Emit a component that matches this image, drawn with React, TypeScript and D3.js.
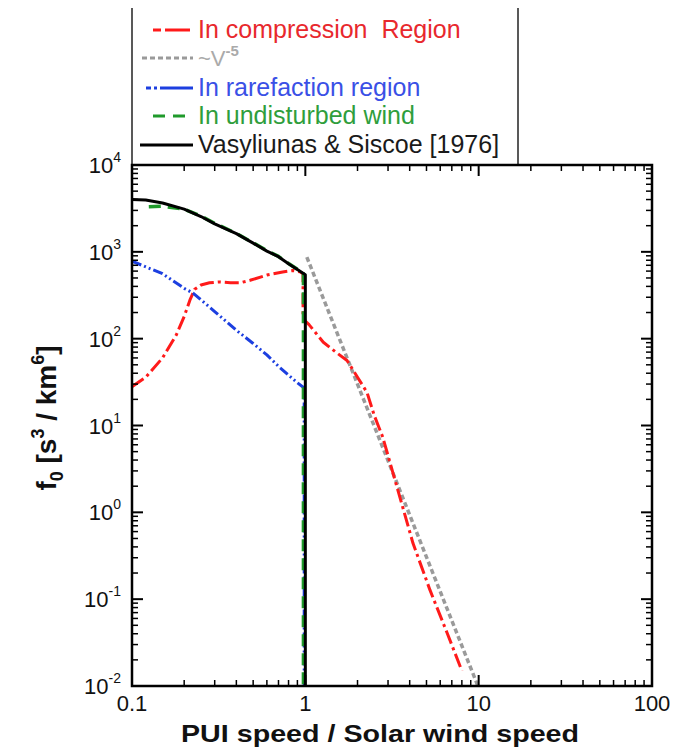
import React from "react";
import * as d3 from "d3";

// ---- data ----
const vsSpeed = [0.1, 0.12, 0.15, 0.2, 0.25, 0.3, 0.4, 0.5, 0.6, 0.7, 0.8, 0.9, 1.0, 1.0];
const vsF = [4000, 3950, 3650, 3100, 2550, 2100, 1620, 1260, 1020, 880, 730, 625, 545, 0.01];

const undSpeed = [0.125, 0.15, 0.2, 0.25, 0.3, 0.4, 0.5, 0.6, 0.7, 0.8, 0.9, 0.975, 0.975];
const undF = [3300, 3350, 3100, 2580, 2130, 1630, 1270, 1030, 885, 735, 630, 560, 0.01];

const rarSpeed = [0.1, 0.15, 0.2, 0.225, 0.3, 0.4, 0.5, 0.6, 0.7, 0.8, 0.9, 0.985, 0.985];
const rarF = [780, 560, 380, 335, 205, 125, 88, 65, 48, 38, 31, 27, 0.01];

const compSpeed = [0.1, 0.12, 0.15, 0.18, 0.2, 0.216, 0.23, 0.25, 0.28, 0.32, 0.37, 0.42, 0.48, 0.6, 0.74, 0.85, 0.93, 0.97, 0.97, 1.0, 1.05, 1.27, 1.5, 1.74, 2.0, 2.27, 2.5, 2.8, 3.38, 4.18, 5.24, 6.57, 8.0];
const compF = [28, 36, 60, 110, 180, 279, 370, 415, 440, 450, 440, 440, 470, 540, 586, 610, 590, 560, 180, 160, 145, 91, 70, 56, 36, 24, 13, 7.3, 1.95, 0.44, 0.127, 0.041, 0.015];

const powSpeed = [1.02, 9.9];
const powF = [870, 0.01];

const xTickValues = [0.1, 1, 10, 100];
const xTickLabels = ["0.1", "1", "10", "100"];
const yExponents = [-2, -1, 0, 1, 2, 3, 4];

const legendLabels = ["In compression\u00a0\u00a0Region", "~V", "In rarefaction region", "In undisturbed wind", "Vasyliunas & Siscoe [1976]"];
const xTitle = "PUI speed / Solar wind speed";

const FONT = "Liberation Sans, Arial, Helvetica, sans-serif";

export default function App() {
  const W = 688, H = 750;
  const L = 132, R = 652, T = 165, B = 686;
  const x = d3.scaleLog().domain([0.1, 100]).range([L, R]);
  const y = d3.scaleLog().domain([0.01, 1e4]).range([B, T]);
  const line = d3.line<[number, number]>().x((d) => x(d[0])).y((d) => y(d[1]));
  const path = (xs: number[], ys: number[]) => line(xs.map((v, i) => [v, ys[i]]) as [number, number][]) || "";

  const series = [
    { xs: powSpeed, ys: powF, color: "#9a9a9a", dash: "5,3", w: 3.5 },
    { xs: compSpeed, ys: compF, color: "#ff1a1a", dash: "14,4,3,4", w: 3 },
    { xs: rarSpeed, ys: rarF, color: "#1c3fe0", dash: "10,3,2,3,2,3", w: 3 },
    { xs: undSpeed, ys: undF, color: "#1f9a2b", dash: "12,7", w: 3.5 },
    { xs: vsSpeed, ys: vsF, color: "#000000", dash: "", w: 3 },
  ];

  // minor ticks
  const xMinor: number[] = [];
  for (let e = -1; e < 2; e++) for (let k = 2; k <= 9; k++) xMinor.push(k * Math.pow(10, e));
  const yMinor: number[] = [];
  for (let e = -2; e < 4; e++) for (let k = 2; k <= 9; k++) yMinor.push(k * Math.pow(10, e));

  const legendRows = [
    { base: 38, color: "#ff1a1a", text: "#e8282d", dash: "8,4,30,0", x1: 153, x2: 190 },
    { base: 66, color: "#9a9a9a", text: "#aaaaaa", dash: "5,3", x1: 142, x2: 193 },
    { base: 96, color: "#1c3fe0", text: "#3a50e6", dash: "5,3,3,3,40,0", x1: 146, x2: 193 },
    { base: 124, color: "#1f9a2b", text: "#2f9e3c", dash: "12,8", x1: 153, x2: 193 },
    { base: 153, color: "#000000", text: "#1a1a1a", dash: "", x1: 140, x2: 193 },
  ];

  return (
    <svg width={W} height={H} style={{ position: "absolute", left: 0, top: 0, background: "#fff" }} fontFamily={FONT}>
      <defs>
        <clipPath id="plotclip">
          <rect x={L} y={T} width={R - L} height={B - T} />
        </clipPath>
      </defs>
      <rect x={0} y={0} width={W} height={H} fill="#fff" />

      {/* legend box */}
      <line x1={L} x2={L} y1={8} y2={T} stroke="#222" strokeWidth={1.5} />
      <line x1={518} x2={518} y1={8} y2={T} stroke="#222" strokeWidth={1.5} />
      {legendRows.map((r, i) => (
        <g key={i}>
          <line x1={r.x1} x2={r.x2} y1={r.base - 8} y2={r.base - 8} stroke={r.color} strokeWidth={3} strokeDasharray={r.dash || undefined} />
          {i === 1 ? (
            <text x={198} y={r.base} fontSize={22} fill={r.text}>
              {legendLabels[i]}
              <tspan dy={-10} fontSize={15} fontWeight="bold">-5</tspan>
            </text>
          ) : (
            <text x={198} y={r.base} fontSize={25} fill={r.text}>{legendLabels[i]}</text>
          )}
        </g>
      ))}

      {/* curves */}
      <g clipPath="url(#plotclip)">
        {series.map((s, i) => (
          <path key={i} d={path(s.xs, s.ys)} fill="none" stroke={s.color} strokeWidth={s.w} strokeDasharray={s.dash || undefined} strokeLinejoin="round" />
        ))}
      </g>

      {/* ticks */}
      <g stroke="#000" strokeWidth={1.5}>
        {xMinor.map((v, i) => (
          <g key={"xm" + i}>
            <line x1={x(v)} x2={x(v)} y1={B} y2={B - 6} />
            <line x1={x(v)} x2={x(v)} y1={T} y2={T + 6} />
          </g>
        ))}
        {xTickValues.map((v, i) => (
          <g key={"xM" + i}>
            <line x1={x(v)} x2={x(v)} y1={B} y2={B - 11} strokeWidth={2} />
            <line x1={x(v)} x2={x(v)} y1={T} y2={T + 11} strokeWidth={2} />
          </g>
        ))}
        {yMinor.map((v, i) => (
          <g key={"ym" + i}>
            <line x1={L} x2={L + 6} y1={y(v)} y2={y(v)} />
            <line x1={R} x2={R - 6} y1={y(v)} y2={y(v)} />
          </g>
        ))}
        {yExponents.map((e, i) => (
          <g key={"yM" + i}>
            <line x1={L} x2={L + 11} y1={y(Math.pow(10, e))} y2={y(Math.pow(10, e))} strokeWidth={2} />
            <line x1={R} x2={R - 11} y1={y(Math.pow(10, e))} y2={y(Math.pow(10, e))} strokeWidth={2} />
          </g>
        ))}
      </g>

      {/* frame */}
      <rect x={L} y={T} width={R - L} height={B - T} fill="none" stroke="#000" strokeWidth={2.5} />

      {/* tick labels */}
      {xTickValues.map((v, i) => (
        <text key={"xl" + i} x={x(v)} y={711} fontSize={22} textAnchor="middle" fill="#111">{xTickLabels[i]}</text>
      ))}
      {yExponents.map((e, i) => (
        <text key={"yl" + i} x={121} y={y(Math.pow(10, e)) + 8} fontSize={22} textAnchor="end" fill="#111">
          10
          <tspan dy={-11} fontSize={14}>{String(e)}</tspan>
        </text>
      ))}

      {/* axis titles */}
      <text x={380} y={742} fontSize={24} fontWeight="bold" textAnchor="middle" textLength={398} lengthAdjust="spacingAndGlyphs" fill="#111">{xTitle}</text>
      <text transform={`translate(56,418) rotate(-90)`} fontSize={28} fontWeight="bold" textAnchor="middle" fill="#111">
        f<tspan dy={7} fontSize={18}>0</tspan>
        <tspan dy={-7}> [s</tspan>
        <tspan dy={-12} fontSize={18}>3</tspan>
        <tspan dy={12}> / km</tspan>
        <tspan dy={-12} fontSize={18}>6</tspan>
        <tspan dy={12}>]</tspan>
      </text>
    </svg>
  );
}
